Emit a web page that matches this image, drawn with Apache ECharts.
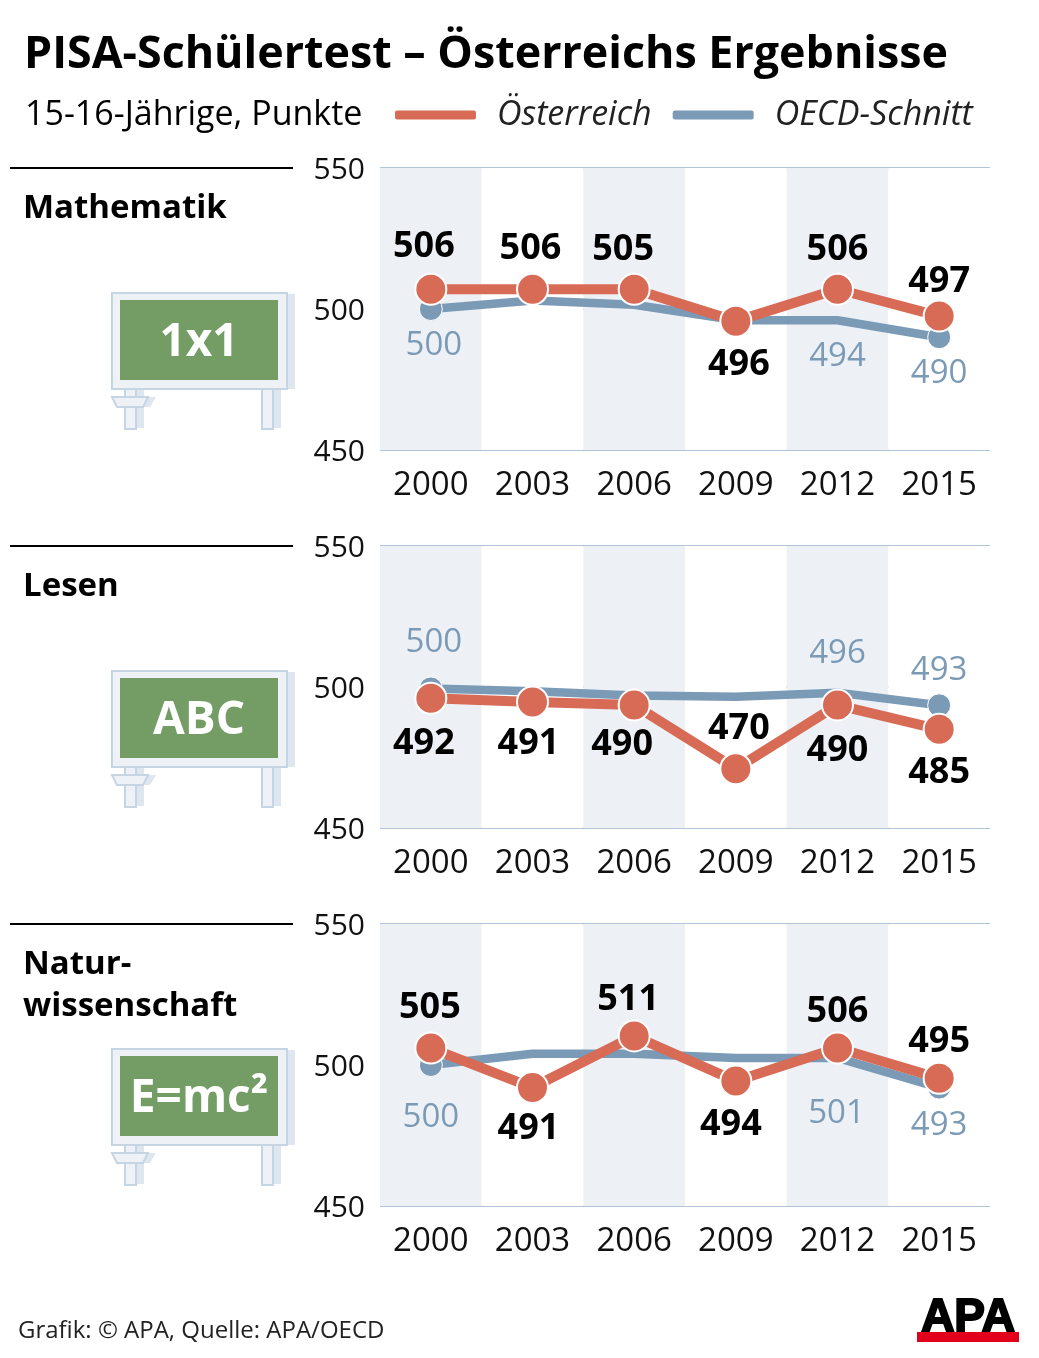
<!DOCTYPE html>
<html>
<head>
<meta charset="utf-8">
<title>PISA-Schülertest</title>
<script src="https://cdn.jsdelivr.net/npm/echarts@6/dist/echarts.min.js"></script>
<style>
html,body{margin:0;padding:0;background:#fff}
#chart{width:1039px;height:1358px}
</style>
</head>
<body>
<div id="chart"></div>
<script>
let years=['2000','2003','2006','2009','2012','2015']

// heights as drawn in the picture
let mathAt=[507,507,507,495.7,507,497.5]
let mathOecd=[500,503,501.5,496,496,490]
let readAt=[496,494.7,493.6,471,493.6,485]
let readOecd=[499.5,498.5,497,496.5,498,493.5]
let sciAt=[506,492,510.3,494.3,506,495.3]
let sciOecd=[500,504,504,502.5,502.5,492]

// numbers as printed next to the points
let mathAtText=[506,506,505,496,506,497]
let mathOecdText=[500,null,null,null,494,490]
let readAtText=[492,491,490,470,490,485]
let readOecdText=[500,null,null,null,496,493]
let sciAtText=[505,491,511,494,506,495]
let sciOecdText=[500,null,null,null,501,493]

// label offsets from the point centre
let mathAtOff=[[-7,-45],[-2,-43],[-11,-42],[3,42],[0,-42],[0,-36]]
let mathOecdOff=[[3,35],0,0,0,[0,34],[0,34]]
let readAtOff=[[-7,43],[-4,40],[-12,38],[3,-42],[0,44],[0,41]]
let readOecdOff=[[3,-48],0,0,0,[0,-41],[0,-37]]
let sciAtOff=[[-1,-42],[-4,39],[-6,-38],[-5,42],[0,-38],[0,-39]]
let sciOecdOff=[[0,51],0,0,0,[-1,54],[0,36]]

let font='"Open Sans"'
let red='#d76b56'
let blue='#7a9ab6'

let panels=[
    {top:168,name:'Mathematik',board:'1x1',boardSize:46,at:mathAt,oecd:mathOecd,atText:mathAtText,oecdText:mathOecdText,atOff:mathAtOff,oecdOff:mathOecdOff},
    {top:546,name:'Lesen',board:'ABC',boardSize:46,at:readAt,oecd:readOecd,atText:readAtText,oecdText:readOecdText,atOff:readAtOff,oecdOff:readOecdOff},
    {top:924,name:'Natur-\nwissenschaft',board:'E=mc²',boardSize:46,at:sciAt,oecd:sciOecd,atText:sciAtText,oecdText:sciOecdText,atOff:sciAtOff,oecdOff:sciOecdOff}
]

// ends=true: only the first and last point get a visible circle (OECD line)
function points(values,texts,offs,labelStyle,ends){
    return values.map(function(v,i){
        let item={value:v}
        if(ends && i>0 && i<values.length-1){
            item.symbolSize=1
            item.itemStyle={borderWidth:0}
        }
        if(texts[i]===null){
            item.label={show:false}
        }else{
            item.label=Object.assign({show:true,position:'inside',formatter:String(texts[i]),offset:[offs[i][0],offs[i][1]+2]},labelStyle)
        }
        return item
    })
}

function text(x,y,str,size,weight,color,extra){
    return {type:'text',x:x,y:y,z:20,style:Object.assign({text:str,font:weight+' '+size+'px '+font,fill:color,textVerticalAlign:'middle'},extra||{})}
}

function board(p){
    let d=p.top-168
    let y=function(v){return v+d}
    let light='#eef2f7',line='#c6d5e4',shade='#dee6ef'
    let rect=function(x,top,w,h,fill,stroke){
        return {type:'rect',z:5,shape:{x:x,y:y(top),width:w,height:h},style:{fill:fill,stroke:stroke||null,lineWidth:stroke?2:0}}
    }
    return [
        rect(287,294,8,95,shade),
        rect(136,390,8,38,shade),
        rect(273,390,8,38,shade),
        {type:'polygon',z:5,shape:{points:[[130,397],[156,397],[150,407],[130,407]].map(function(q){return [q[0],y(q[1])]})},style:{fill:shade}},
        rect(125,389,11,40,light,line),
        rect(262,389,11,40,light,line),
        {type:'polygon',z:6,shape:{points:[[112,397],[148,397],[143,407],[117,407]].map(function(q){return [q[0],y(q[1])]})},style:{fill:light,stroke:line,lineWidth:2}},
        rect(112,293,175,96,light,line),
        rect(120,300,158,80,'#739d64'),
        text(199,y(343),p.board,p.boardSize,700,'#fff',{textAlign:'center'})
    ]
}

let grids=[],xAxes=[],yAxes=[],series=[]
let graphics=[
    text(24,55,'PISA-Schülertest – Österreichs Ergebnisse',44.8,700,'#000'),
    text(25,115,'15-16-Jährige, Punkte',34,400,'#000'),
    text(18,1331,'Grafik: © APA, Quelle: APA/OECD',24,400,'#222'),
    {type:'rect',z:7,shape:{x:917,y:1332,width:102,height:10},style:{fill:'#e2001a'}},
    {type:'text',x:968,y:1318,z:6,style:{text:'APA',font:'700 46px "Liberation Sans"',fill:'#000',stroke:'#000',lineWidth:2,textAlign:'center',textVerticalAlign:'middle'}}
]

panels.forEach(function(p,i){
    grids.push({left:380,width:610,top:p.top,height:282})
    xAxes.push({
        type:'category',gridIndex:i,data:years,
        axisLine:{show:false},axisTick:{show:false},
        axisLabel:{fontFamily:font,fontSize:33,color:'#111',margin:19},
        splitArea:{show:true,areaStyle:{color:['#edf1f6','#ffffff']}}
    })
    yAxes.push({
        type:'value',gridIndex:i,min:450,max:550,interval:50,
        axisLine:{show:false},axisTick:{show:false},
        axisLabel:{
            margin:15,formatter:'{v|{value}}',
            rich:{v:{fontFamily:font,fontSize:30,color:'#111',padding:[5,0,0,0]}}
        },
        splitLine:{lineStyle:{color:'#b0c5d9',width:2}}
    })
    series.push({
        name:'OECD-Schnitt',type:'line',xAxisIndex:i,yAxisIndex:i,z:3,
        symbol:'circle',symbolSize:23,
        lineStyle:{color:blue,width:8.5},
        itemStyle:{color:blue,borderColor:'#fff',borderWidth:1},
        label:{show:false},
        data:points(p.oecd,p.oecdText,p.oecdOff,{color:blue,fontFamily:font,fontSize:33,fontWeight:400},true)
    })
    series.push({
        name:'Österreich',type:'line',xAxisIndex:i,yAxisIndex:i,z:4,
        symbol:'circle',symbolSize:31,
        lineStyle:{color:red,width:10},
        itemStyle:{color:red,borderColor:'#fff',borderWidth:2},
        label:{show:false},
        data:points(p.at,p.atText,p.atOff,{color:'#000',fontFamily:font,fontSize:36,fontWeight:700},false)
    })
    graphics.push({type:'line',z:5,shape:{x1:10,y1:p.top,x2:293,y2:p.top},style:{stroke:'#000',lineWidth:2}})
    graphics.push(text(23,p.top+20,p.name,33,700,'#000',{lineHeight:42,textVerticalAlign:'top'}))
    graphics=graphics.concat(board(p))
})

let myChart=echarts.init(document.getElementById('chart'),null,{renderer:'canvas'})
myChart.setOption({
    animation:false,
    backgroundColor:'#fff',
    legend:{
        left:390,top:93,
        data:['Österreich','OECD-Schnitt'],
        icon:'roundRect',itemWidth:81,itemHeight:9,itemGap:21,
        itemStyle:{borderWidth:0},
        textStyle:{fontFamily:font,fontSize:34,fontStyle:'italic',color:'#222',padding:[0,0,0,16]}
    },
    grid:grids,
    xAxis:xAxes,
    yAxis:yAxes,
    series:series,
    graphic:{elements:graphics}
})
</script>
</body>
</html>
